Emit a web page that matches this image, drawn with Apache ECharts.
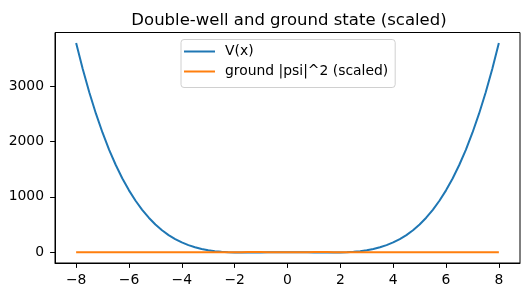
<!DOCTYPE html>
<html>
<head>
<meta charset="utf-8">
<script src="https://cdn.jsdelivr.net/npm/echarts@6/dist/echarts.min.js"></script>
<style>html,body{margin:0;padding:0;background:#fff}#c{width:529px;height:297px}</style>
</head>
<body>
<div id="c"></div>
<script>
var xs = [-8,-7.75,-7.5,-7.25,-7,-6.75,-6.5,-6.25,-6,-5.75,-5.5,-5.25,-5,-4.75,-4.5,-4.25,-4,-3.75,-3.5,-3.25,-3,-2.75,-2.5,-2.25,-2,-1.75,-1.5,-1.25,-1,-0.75,-0.5,-0.25,0,0.25,0.5,0.75,1,1.25,1.5,1.75,2,2.25,2.5,2.75,3,3.25,3.5,3.75,4,4.25,4.5,4.75,5,5.25,5.5,5.75,6,6.25,6.5,6.75,7,7.25,7.5,7.75,8];
var potential = [3776,3307,2883,2500,2156,1848,1574,1331,1116,928,764,622,500,396,309,236,176,127,89,59,36,19,8,0.3,-4,-5.9,-6.2,-5.4,-4,-2.5,-1.2,-0.3,0,-0.3,-1.2,-2.5,-4,-5.4,-6.2,-5.9,-4,0.3,8,19,36,59,89,127,176,236,309,396,500,622,764,928,1116,1331,1574,1848,2156,2500,2883,3307,3776];
var groundScaled = [0,0,0,0,0,0,0,0,0,0,0,0,0,0,0,0,0,0,0,0,0,0,0.1,0.3,0.7,1.2,1.5,1.5,1.4,1.2,1.1,1.0,1.0,1.0,1.1,1.2,1.4,1.5,1.5,1.2,0.7,0.3,0.1,0,0,0,0,0,0,0,0,0,0,0,0,0,0,0,0,0,0,0,0,0,0];
var xTicks = [-8,-6,-4,-2,0,2,4,6,8];
var yTicks = [0,1000,2000,3000];
var seriesNames = ['V(x)', 'ground |psi|^2 (scaled)'];
var titleText = 'Double-well and ground state (scaled)';

function pairs(ys){ return xs.map(function(x,i){ return [x, ys[i]]; }); }
var font = 'DejaVu Sans';
var chart = echarts.init(document.getElementById('c'), null, {renderer:'canvas'});
chart.setOption({
  animation:false,
  backgroundColor:'#fff',
  title:{text:titleText,left:284,textAlign:'center',top:7,textStyle:{fontFamily:font,fontSize:16.5,fontWeight:'normal',color:'#000'}},
  legend:{
    orient:'vertical', left:181, top:39.5,
    data:[{name:seriesNames[0],icon:'rect'},{name:seriesNames[1],icon:'rect'}],
    itemWidth:31, itemHeight:2, itemGap:6,
    padding:[5,7,9,3],
    borderColor:'#d0d0d0', borderWidth:1, borderRadius:3,
    backgroundColor:'rgba(255,255,255,0.8)',
    textStyle:{fontFamily:font,fontSize:13.9,color:'#000',padding:[0,0,0,5]}
  },
  grid:{left:55,right:9,top:32.5,bottom:34,show:true,borderColor:'#000',borderWidth:1,backgroundColor:'transparent'},
  xAxis:{type:'value',min:-8.8,max:8.8,
    axisLine:{show:true,onZero:false,lineStyle:{color:'#000',width:1}},
    axisTick:{show:true,length:4.9,lineStyle:{color:'#000'},customValues:xTicks},
    axisLabel:{fontFamily:font,fontSize:13.9,color:'#000',margin:10,customValues:xTicks,formatter:function(v){return v<0?'\u2212'+(-v):String(v);}},
    splitLine:{show:false}},
  yAxis:{type:'value',min:-195,max:3965,
    axisLine:{show:true,onZero:false,lineStyle:{color:'#000',width:1}},
    axisTick:{show:true,length:4.9,lineStyle:{color:'#000'},customValues:yTicks},
    axisLabel:{fontFamily:font,fontSize:13.9,color:'#000',margin:11,customValues:yTicks,formatter:function(v){return String(v);}},
    splitLine:{show:false}},
  series:[
    {name:seriesNames[0],type:'line',data:pairs(potential),showSymbol:false,symbol:'none',lineStyle:{color:'#1f77b4',width:2},itemStyle:{color:'#1f77b4'},z:2},
    {name:seriesNames[1],type:'line',data:pairs(groundScaled),showSymbol:false,symbol:'none',lineStyle:{color:'#ff7f0e',width:2},itemStyle:{color:'#ff7f0e'},z:3}
  ]
});
</script>
</body>
</html>
